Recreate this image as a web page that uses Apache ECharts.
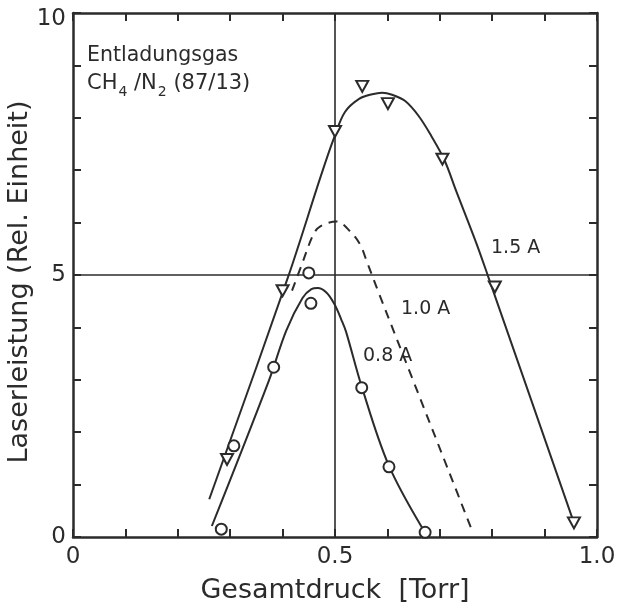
<!DOCTYPE html>
<html>
<head>
<meta charset="utf-8">
<script src="https://cdn.jsdelivr.net/npm/echarts@6/dist/echarts.min.js"></script>
<style>
  html, body { margin: 0; padding: 0; background: #ffffff; }
  #chart { width: 617px; height: 608px; }
</style>
</head>
<body>
<div id="chart"></div>
<script>
// Measured laser power vs. total pressure, CH4/N2 (87/13) discharge
// [pressure in Torr, laser power in relative units]
const points15A = [[0.294, 1.48], [0.400, 4.70], [0.500, 7.74], [0.552, 8.60],
                   [0.601, 8.27], [0.705, 7.21], [0.805, 4.77], [0.956, 0.27]];
const pointsCircle = [[0.283, 0.15], [0.307, 1.74], [0.383, 3.24], [0.450, 5.04],
                      [0.454, 4.46], [0.551, 2.85], [0.603, 1.34], [0.672, 0.09]];

// Fitted curves for the three discharge currents
const curve15A = [[0.260, 0.72], [0.410, 4.95], [0.474, 6.92], [0.499, 7.64],
                  [0.519, 8.11], [0.546, 8.36], [0.571, 8.45], [0.590, 8.48],
                  [0.609, 8.44], [0.634, 8.32], [0.660, 8.03], [0.684, 7.65], [0.709, 7.19],
                  [0.731, 6.61], [0.770, 5.60], [0.792, 4.98], [0.956, 0.27]];
const curve10A = [[0.418, 4.70], [0.437, 5.21], [0.459, 5.78], [0.472, 5.93], [0.503, 6.02],
                  [0.530, 5.82], [0.548, 5.58], [0.561, 5.25], [0.585, 4.62],
                  [0.647, 3.04], [0.715, 1.31], [0.762, 0.11]];
const curve08A = [[0.265, 0.21], [0.374, 2.99], [0.407, 3.94], [0.438, 4.56],
                  [0.455, 4.73], [0.467, 4.75], [0.484, 4.66], [0.499, 4.44],
                  [0.512, 4.15], [0.521, 3.92], [0.551, 2.87], [0.602, 1.38],
                  [0.666, 0.18]];

// Labelled tick positions
const xLabelValues = [0, 0.5, 1.0];
const xLabelTexts = ['0', '0.5', '1.0'];
const yLabelValues = [0, 5, 10];
const yLabelTexts = ['0', '5', '10'];

const INK = '#2b2b2b';
const FONT = 'DejaVu Sans';

function pickLabel(values, texts) {
  return function (v) {
    const i = values.findIndex(t => Math.abs(t - v) < 1e-6);
    return i >= 0 ? texts[i] : '';
  };
}

const frameAxisLine = { show: true, onZero: false, lineStyle: { color: INK, width: 2.5 } };
const frameTick = { show: true, inside: true, length: 8, lineStyle: { color: INK, width: 2 } };

const chart = echarts.init(document.getElementById('chart'), null, { renderer: 'canvas' });

chart.setOption({
  backgroundColor: '#ffffff',
  animation: false,
  grid: { left: 73, right: 20, top: 13, bottom: 71, outerBoundsMode: 'none', containLabel: false },
  xAxis: [{
    type: 'value', min: 0, max: 1, interval: 0.1,
    name: 'Gesamtdruck  [Torr]', nameLocation: 'middle', nameGap: 40, nameMoveOverlap: false,
    nameTextStyle: { fontFamily: FONT, fontSize: 27, color: INK },
    axisLine: frameAxisLine, axisTick: frameTick,
    axisLabel: { fontFamily: FONT, fontSize: 23, color: INK, margin: 9,
                 formatter: pickLabel(xLabelValues, xLabelTexts) },
    splitLine: { show: false }
  }, {
    type: 'value', position: 'top', min: 0, max: 1, interval: 0.1,
    axisLine: frameAxisLine, axisTick: frameTick,
    axisLabel: { show: false }, splitLine: { show: false }
  }],
  yAxis: [{
    type: 'value', min: 0, max: 10, interval: 1,
    name: 'Laserleistung (Rel. Einheit)', nameLocation: 'middle', nameGap: 40, nameMoveOverlap: false,
    nameTextStyle: { fontFamily: FONT, fontSize: 27, color: INK, padding: [0, 14, 0, 0] },
    axisLine: frameAxisLine, axisTick: frameTick,
    axisLabel: {
      fontFamily: FONT, fontSize: 23, color: INK, margin: 7,
      formatter: function (v) {
        const t = pickLabel(yLabelValues, yLabelTexts)(v);
        return v === 10 ? '{top|' + t + '}' : t;
      },
      rich: { top: { fontFamily: FONT, fontSize: 23, color: INK, padding: [12, 0, 0, 0] } }
    },
    splitLine: { show: false }
  }, {
    type: 'value', position: 'right', min: 0, max: 10, interval: 1,
    axisLine: frameAxisLine, axisTick: frameTick,
    axisLabel: { show: false }, splitLine: { show: false }
  }],
  series: [
    {
      name: '1.5 A', type: 'line', data: curve15A, symbol: 'none', smooth: 0.35,
      lineStyle: { color: INK, width: 2 }, z: 3,
      markLine: {
        silent: true, symbol: ['none', 'none'], label: { show: false },
        lineStyle: { color: INK, width: 1.6, type: 'solid' },
        data: [{ xAxis: 0.5 }, { yAxis: 5 }]
      }
    },
    {
      name: '1.0 A', type: 'line', data: curve10A, symbol: 'none', smooth: 0.35,
      lineStyle: { color: INK, width: 2, type: [9, 7] }, z: 3
    },
    {
      name: '0.8 A', type: 'line', data: curve08A, symbol: 'none', smooth: 0.35,
      lineStyle: { color: INK, width: 2 }, z: 3
    },
    {
      name: 'Messpunkte 1.5 A', type: 'scatter', data: points15A,
      symbol: 'triangle', symbolRotate: 180, symbolSize: [12, 11],
      itemStyle: { color: '#ffffff', borderColor: INK, borderWidth: 2, opacity: 1 }, z: 5
    },
    {
      name: 'Messpunkte', type: 'scatter', data: pointsCircle,
      symbol: 'circle', symbolSize: 11,
      itemStyle: { color: '#ffffff', borderColor: INK, borderWidth: 2, opacity: 1 }, z: 5
    }
  ],
  graphic: [
    { type: 'text', left: 87, top: 45,
      style: { text: 'Entladungsgas', font: '20.5px "DejaVu Sans"', fill: INK } },
    { type: 'text', left: 87, top: 73,
      style: {
        text: '{a|CH}{s|4}{a| /N}{s|2}{a| (87/13)}',
        fill: INK,
        rich: {
          a: { fontFamily: FONT, fontSize: 21, fill: INK, verticalAlign: 'bottom' },
          s: { fontFamily: FONT, fontSize: 14, fill: INK, verticalAlign: 'bottom', padding: [0, 0, -5, 1] }
        }
      } },
    { type: 'text', left: 491, top: 239,
      style: { text: '1.5 A', font: '19px "DejaVu Sans"', fill: INK } },
    { type: 'text', left: 401, top: 300,
      style: { text: '1.0 A', font: '19px "DejaVu Sans"', fill: INK } },
    { type: 'text', left: 363, top: 347,
      style: { text: '0.8 A', font: '19px "DejaVu Sans"', fill: INK } }
  ]
});
</script>
</body>
</html>
